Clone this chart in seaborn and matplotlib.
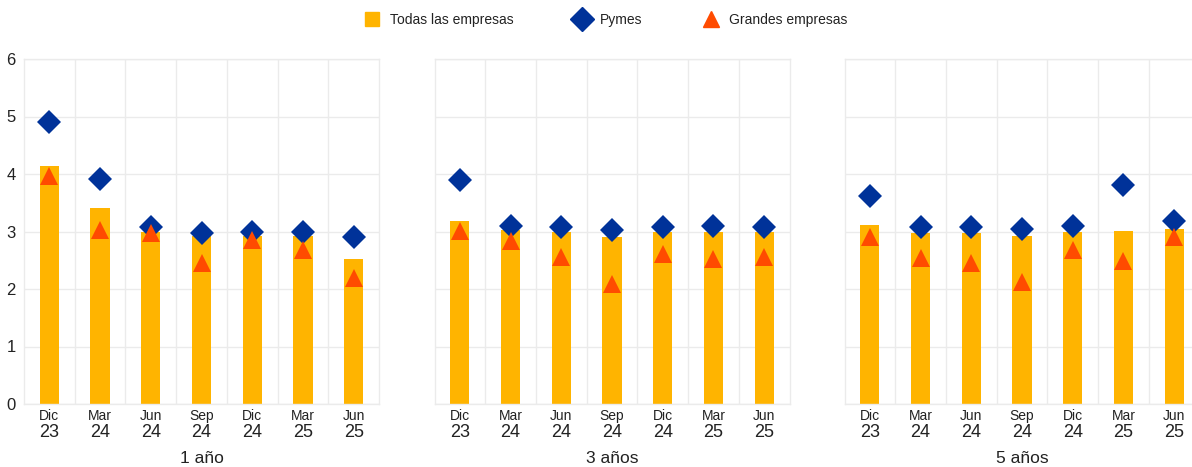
import pandas as pd
import seaborn as sns
import matplotlib.pyplot as plt
import numpy as np
from matplotlib.lines import Line2D

# Periods shown on every panel (month / year)
months = ['Dic', 'Mar', 'Jun', 'Sep', 'Dic', 'Mar', 'Jun']
years = ['23', '24', '24', '24', '24', '25', '25']
periods = [m + ' ' + y for m, y in zip(months, years)]

panels = ['1 año', '3 años', '5 años']

# Values
todas = {
    '1 año': [4.14, 3.41, 3.00, 2.92, 2.93, 2.93, 2.52],
    '3 años': [3.19, 3.02, 3.00, 2.91, 3.00, 2.99, 3.00],
    '5 años': [3.11, 2.98, 2.98, 2.92, 3.00, 3.01, 3.04],
}
pymes = {
    '1 año': [4.91, 3.91, 3.07, 2.98, 2.99, 2.99, 2.90],
    '3 años': [3.89, 3.10, 3.07, 3.03, 3.07, 3.10, 3.07],
    '5 años': [3.61, 3.08, 3.08, 3.04, 3.09, 3.81, 3.19],
}
grandes = {
    '1 año': [3.97, 3.03, 2.97, 2.45, 2.85, 2.67, 2.20],
    '3 años': [3.01, 2.84, 2.56, 2.08, 2.61, 2.52, 2.56],
    '5 años': [2.90, 2.54, 2.45, 2.12, 2.67, 2.49, 2.90],
}

YELLOW = '#FFB400'
BLUE = '#003299'
ORANGE = '#FF4B00'
GRID = '#ebebeb'
TEXT = '#222222'

sns.set_style('white')
plt.rcParams['font.family'] = ['Liberation Sans', 'DejaVu Sans']

fig = plt.figure(figsize=(11.92, 4.67), dpi=100)
W, H = 1192, 467
lefts = [24, 434.5, 844.5]

for i, name in enumerate(panels):
    ax = fig.add_axes([lefts[i] / W, (H - 404) / H, 355 / W, 345 / H])
    df = pd.DataFrame({'periodo': periods, 'todas': todas[name],
                       'pymes': pymes[name], 'grandes': grandes[name]})

    sns.barplot(data=df, x='periodo', y='todas', order=periods, color=YELLOW,
                saturation=1, width=0.38, linewidth=0, ax=ax, zorder=2)
    sns.pointplot(data=df, x='periodo', y='pymes', order=periods, color=BLUE,
                  marker='D', markersize=12.7, linestyle='none', errorbar=None,
                  markeredgewidth=0, ax=ax, zorder=3)
    sns.pointplot(data=df, x='periodo', y='grandes', order=periods, color=ORANGE,
                  marker='^', markersize=13, linestyle='none', errorbar=None,
                  markeredgewidth=0, ax=ax, zorder=4)

    ax.set_xlim(-0.5, 6.5)
    ax.set_ylim(0, 6)
    ax.set_yticks(range(0, 7))
    ax.set_xticks(range(7))
    ax.set_xticklabels([''] * 7)
    ax.set_xticks(np.arange(0.5, 6.5, 1), minor=True)
    ax.tick_params(which='both', length=0)
    ax.grid(False)
    ax.grid(which='minor', axis='x', color=GRID, linewidth=1)
    ax.grid(which='major', axis='y', color=GRID, linewidth=1)
    ax.set_axisbelow(True)
    for s in ax.spines.values():
        s.set_color(GRID)
        s.set_linewidth(1)
    ax.set_xlabel('')
    ax.set_ylabel('')
    if i == 0:
        ax.tick_params(axis='y', labelsize=12, labelcolor=TEXT, pad=6)
    else:
        ax.set_yticklabels([])

    tr = ax.get_xaxis_transform()
    for k in range(7):
        ax.text(k, -0.035, months[k], transform=tr, ha='center', va='center',
                fontsize=10, color=TEXT)
        ax.text(k, -0.082, years[k], transform=tr, ha='center', va='center',
                fontsize=13, color=TEXT)
    ax.text(3, -0.157, name, transform=tr, ha='center', va='center',
            fontsize=12.5, color=TEXT)

handles = [
    Line2D([], [], marker='s', color=YELLOW, linestyle='none', markersize=10),
    Line2D([], [], marker='D', color=BLUE, linestyle='none', markersize=12),
    Line2D([], [], marker='^', color=ORANGE, linestyle='none', markersize=12),
]
fig.legend(handles, ['Todas las empresas', 'Pymes', 'Grandes empresas'],
           loc='center', bbox_to_anchor=(0.508, 0.957), ncol=3, frameon=False,
           fontsize=10, handletextpad=0.7, columnspacing=4.3, handlelength=1.2,
           labelcolor=TEXT)

plt.savefig('out.png', dpi=100)
